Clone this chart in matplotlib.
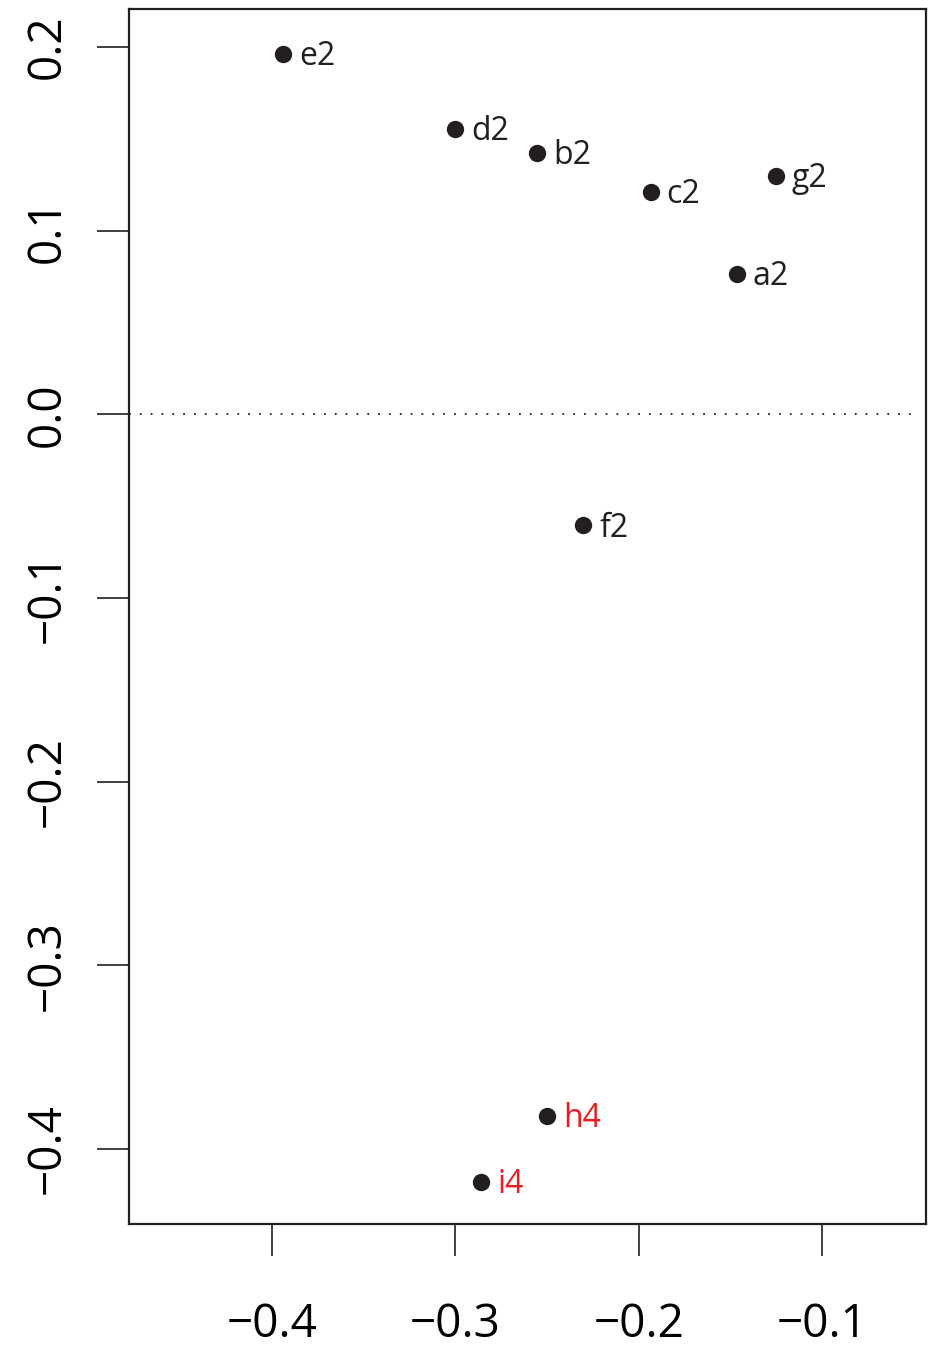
import numpy as np
import matplotlib.pyplot as plt

plt.rcParams['font.family'] = ['Open Sans', 'DejaVu Sans']

labels = ['a2', 'b2', 'c2', 'd2', 'e2', 'f2', 'g2', 'h4', 'i4']
xs = [-0.1464, -0.2553, -0.1935, -0.3000, -0.3940, -0.2302, -0.1251, -0.2498, -0.2858]
ys = [0.0763, 0.1422, 0.1210, 0.1553, 0.1962, -0.0605, 0.1297, -0.3820, -0.4180]
label_colors = ['#231f20'] * 7 + ['#ed1c24', '#ed1c24']

xticks = [-0.4, -0.3, -0.2, -0.1]
yticks = [-0.4, -0.3, -0.2, -0.1, 0.0, 0.1, 0.2]

ink = '#231f20'

fig = plt.figure(figsize=(9.34, 13.51), dpi=100)
ax = fig.add_axes([129 / 934, 1 - 1224 / 1351, (926 - 129) / 934, (1224 - 9) / 1351])
ax.set_xlim(-0.478, -0.0433)
ax.set_ylim(-0.4409, 0.2207)

ax.hlines(0, -0.478, -0.0493, colors=ink, linestyles=(0, (1, 5)), linewidth=1.3)
ax.plot(xs, ys, 'o', color=ink, markersize=12.5, markeredgewidth=0)

for x, y, lab, c in zip(xs, ys, labels, label_colors):
    ax.annotate(lab, (x, y), xytext=(11.5, -2), textcoords='offset points',
                ha='left', va='center', fontsize=23, color=c)

for s in ax.spines.values():
    s.set_linewidth(1.6)
    s.set_color(ink)

ax.set_xticks(xticks)
ax.set_xticklabels(['\u2212%.1f' % abs(v) for v in xticks])
ax.set_yticks(yticks)
ax.set_yticklabels([('\u2212%.1f' % abs(v)) if v < 0 else '%.1f' % v for v in yticks],
                   rotation=90, va='center')
ax.tick_params(axis='both', direction='out', length=23, width=1.2, color=ink,
               labelsize=33, labelcolor='black')
ax.tick_params(axis='x', pad=33)
ax.tick_params(axis='y', pad=19)

fig.savefig('out.png', dpi=100)
